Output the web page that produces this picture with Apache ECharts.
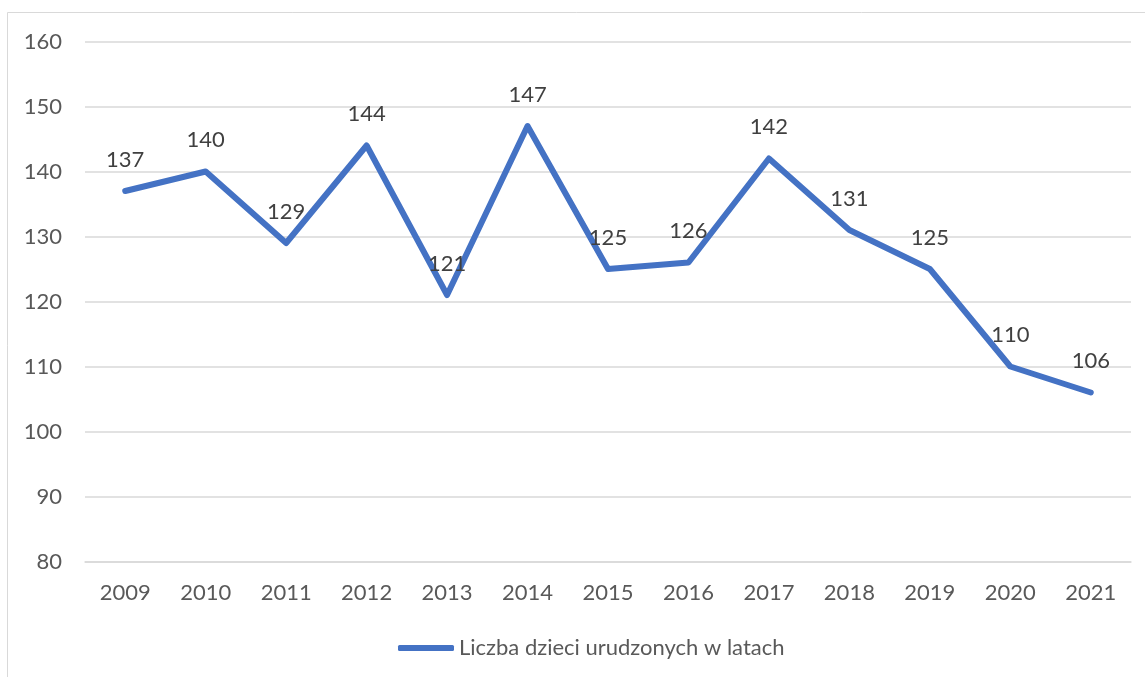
<!DOCTYPE html>
<html>
<head>
<meta charset="utf-8">
<script src="https://cdn.jsdelivr.net/npm/echarts@6/dist/echarts.min.js"></script>
<style>
html,body{margin:0;padding:0;background:#fff;}
#chart{width:1145px;height:677px;}
</style>
</head>
<body>
<div id="chart"></div>
<script>
const years = ['2009','2010','2011','2012','2013','2014','2015','2016','2017','2018','2019','2020','2021'];
const values = [137,140,129,144,121,147,125,126,142,131,125,110,106];
const seriesName = 'Liczba dzieci urudzonych w latach';
const yMin = 80, yMax = 160, yStep = 10;

const FONT = 'Lato';
const FS = 22;
const chart = echarts.init(document.getElementById('chart'), null, {renderer:'canvas'});
chart.setOption({
  backgroundColor:'#ffffff',
  animation:false,
  textStyle:{fontFamily:FONT},
  graphic:[{
    type:'rect', silent:true, z:-1,
    shape:{x:7.5,y:12.5,width:1160,height:700},
    style:{fill:'none',stroke:'#d9d9d9',lineWidth:1}
  }],
  grid:{left:85,right:14,top:41.5,bottom:115.5,containLabel:false},
  legend:{
    data:[{name:seriesName, icon:'roundRect'}],
    left:393, top:632,
    itemWidth:56, itemHeight:6,
    textStyle:{fontFamily:FONT,fontSize:FS,color:'#595959'}
  },
  xAxis:{
    type:'category', data:years, boundaryGap:true,
    axisLine:{show:true,lineStyle:{color:'#d9d9d9',width:1.5}},
    axisTick:{show:false},
    axisLabel:{fontFamily:FONT,fontSize:FS,color:'#595959',margin:20}
  },
  yAxis:{
    type:'value', min:yMin, max:yMax, interval:yStep,
    axisLine:{show:false}, axisTick:{show:false},
    splitLine:{lineStyle:{color:'#d9d9d9',width:1.5}},
    axisLabel:{fontFamily:FONT,fontSize:FS,color:'#595959',margin:23}
  },
  series:[{
    name:seriesName, type:'line', data:values,
    symbol:'circle', symbolSize:1, showSymbol:true, smooth:false,
    lineStyle:{color:'#4472C4',width:6,cap:'round',join:'round'},
    itemStyle:{color:'#4472C4'},
    label:{show:true,position:'top',distance:20,fontFamily:FONT,fontSize:FS,color:'#404040'},
    labelLayout:{hideOverlap:false}
  }]
});
</script>
</body>
</html>
